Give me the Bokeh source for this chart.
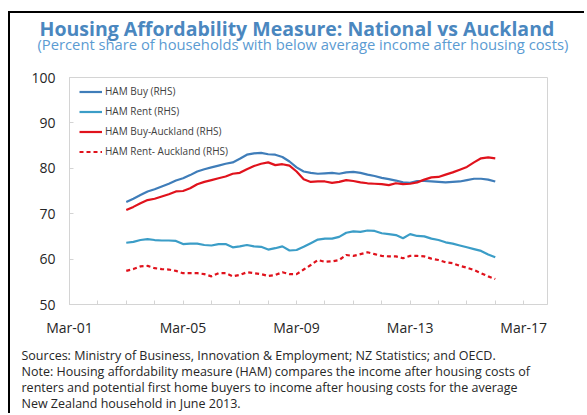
import pandas as pd
from bokeh.plotting import figure
from bokeh.models import Title, FixedTicker, Range1d
from bokeh.embed import file_html
from bokeh.resources import INLINE

# ---------------- data (quarterly, Mar-03 .. Mar-16) ----------------
periods = pd.period_range("2003Q1", "2016Q1", freq="Q")
ham_buy = [72.6, 73.3, 74.1, 74.9, 75.4, 76.0, 76.6, 77.3, 77.8, 78.5, 79.3, 79.8,
           80.2, 80.6, 81.0, 81.3, 82.1, 83.0, 83.3, 83.4, 83.1, 83.0, 82.5, 81.5,
           80.2, 79.3, 79.0, 78.8, 78.9, 79.0, 78.8, 79.1, 79.2, 79.0, 78.6, 78.3,
           77.9, 77.6, 77.3, 76.9, 76.8, 77.2, 77.2, 77.1, 77.0, 76.9, 77.0, 77.1,
           77.4, 77.7, 77.7, 77.5, 77.1]
ham_rent = [63.6, 63.8, 64.2, 64.4, 64.2, 64.1, 64.1, 64.0, 63.3, 63.4, 63.4, 63.1,
            63.0, 63.3, 63.3, 62.6, 62.8, 63.1, 62.8, 62.7, 62.1, 62.4, 62.8, 61.9,
            62.0, 62.7, 63.5, 64.3, 64.5, 64.5, 64.9, 65.8, 66.1, 66.0, 66.3, 66.2,
            65.7, 65.5, 65.3, 64.6, 65.5, 65.1, 65.0, 64.5, 64.2, 63.7, 63.4, 63.0,
            62.6, 62.2, 61.8, 61.0, 60.4]
ham_buy_akl = [70.8, 71.5, 72.3, 73.0, 73.3, 73.8, 74.3, 74.9, 75.0, 75.6, 76.5, 77.0,
               77.4, 77.8, 78.2, 78.8, 79.0, 79.8, 80.5, 81.0, 81.3, 80.7, 80.9, 80.6,
               79.3, 77.6, 77.0, 77.1, 77.1, 76.8, 77.0, 77.4, 77.2, 76.9, 76.7, 76.6,
               76.5, 76.3, 76.7, 76.5, 76.6, 76.9, 77.5, 78.0, 78.1, 78.6, 79.1, 79.7,
               80.3, 81.3, 82.2, 82.4, 82.2]
ham_rent_akl = [57.4, 57.8, 58.4, 58.5, 58.0, 57.8, 57.7, 57.4, 56.9, 56.9, 56.9, 56.7,
                56.2, 56.9, 56.9, 56.2, 56.5, 57.1, 56.9, 56.7, 56.3, 56.5, 57.1, 56.7,
                56.7, 57.7, 58.7, 59.8, 59.4, 59.5, 59.8, 60.9, 60.7, 61.1, 61.5, 61.1,
                60.7, 60.6, 60.6, 60.2, 60.7, 60.7, 60.6, 60.1, 59.8, 59.3, 59.1, 58.5,
                58.1, 57.6, 56.9, 56.2, 55.6]
x_tick_years = list(range(2001, 2018))
x_tick_labels = {2001: "Mar-01", 2005: "Mar-05", 2009: "Mar-09", 2013: "Mar-13", 2017: "Mar-17"}
y_ticks = [50, 60, 70, 80, 90, 100]

title = "Housing Affordability Measure: National vs Auckland"
subtitle = "(Percent share of households with below average income after housing costs)"
notes = [
    "Sources: Ministry of Business, Innovation & Employment; NZ Statistics; and OECD.",
    "Note: Housing affordability measure (HAM) compares the income after housing costs of",
    "renters and potential first home buyers to income after housing costs for the average",
    "New Zealand household in June 2013.",
]

x = [p.year + p.quarter * 0.25 for p in periods]

FONT = "Open Sans"
GRID = "#d4d4d4"

p = figure(width=576, height=402, output_backend="svg", toolbar_location=None,
           x_range=Range1d(2001.25, 2018.09), y_range=Range1d(50, 100),
           min_border_left=59, min_border_right=39, min_border_top=64, min_border_bottom=111)
p.styles = {"border-top": "2px solid #000000", "border-left": "2px solid #000000",
            "margin-top": "11px", "margin-left": "8px"}
p.grid.visible = False
p.outline_line_color = GRID
p.outline_line_width = 1
p.background_fill_color = "white"
p.border_fill_color = "white"

p.line(x, ham_buy, color="#3f7db9", line_width=2.2, legend_label="HAM Buy (RHS)")
p.line(x, ham_rent, color="#3b9dc7", line_width=2.2, legend_label="HAM Rent (RHS)")
p.line(x, ham_buy_akl, color="#e0121c", line_width=2.2, legend_label="HAM Buy-Auckland (RHS)")
p.line(x, ham_rent_akl, color="#e0121c", line_width=2.2, line_dash="4 3",
       legend_label="HAM Rent- Auckland (RHS)")

xt = [y + 0.25 for y in x_tick_years]
p.xaxis.ticker = FixedTicker(ticks=xt, minor_ticks=[])
p.xaxis.major_label_overrides = {y + 0.25: x_tick_labels.get(y, "") for y in x_tick_years}
p.yaxis.ticker = FixedTicker(ticks=y_ticks, minor_ticks=[])
for ax in (p.xaxis[0], p.yaxis[0]):
    ax.axis_line_color = GRID
    ax.major_tick_line_color = GRID
    ax.major_tick_in = 4
    ax.major_tick_out = 0
    ax.minor_tick_line_color = None
    ax.major_label_text_font = FONT
    ax.major_label_text_font_size = "14px"
    ax.major_label_text_color = "#262626"
p.xaxis.major_label_standoff = 13
p.yaxis.major_label_standoff = 14

lg = p.legend[0]
lg.location = (10, 146)
lg.margin = 0
lg.padding = 0
lg.spacing = 6
lg.glyph_width = 23
lg.glyph_height = 13
lg.label_standoff = 3
lg.label_text_font = FONT
lg.label_text_font_size = "10px"
lg.label_text_color = "#404040"
lg.border_line_alpha = 0
lg.background_fill_alpha = 0

# ---- title block (above the frame; first added sits nearest the frame) ----
p.add_layout(Title(text=" ", text_font_size="1px", standoff=27), "above")
p.add_layout(Title(text=subtitle, text_font=FONT, text_font_size="14.75px",
                   text_font_style="normal", text_color="#5b9bd2", align="left",
                   offset=-32, vertical_align="top", standoff=-16), "above")
p.add_layout(Title(text=title, text_font=FONT, text_font_size="19.5px",
                   text_font_style="bold", text_color="#4a87bf", align="left",
                   offset=-30, vertical_align="bottom", standoff=-1), "above")

# ---- footnotes (below the x axis) ----
p.add_layout(Title(text=" ", text_font_size="1px", standoff=4), "below")
for t in notes:
    p.add_layout(Title(text=t, text_font=FONT, text_font_size="12.5px",
                       text_font_style="normal", text_color="#262626", align="left",
                       offset=-48, vertical_align="bottom", standoff=-2.7), "below")

open("out.html", "w").write(file_html(p, INLINE))
